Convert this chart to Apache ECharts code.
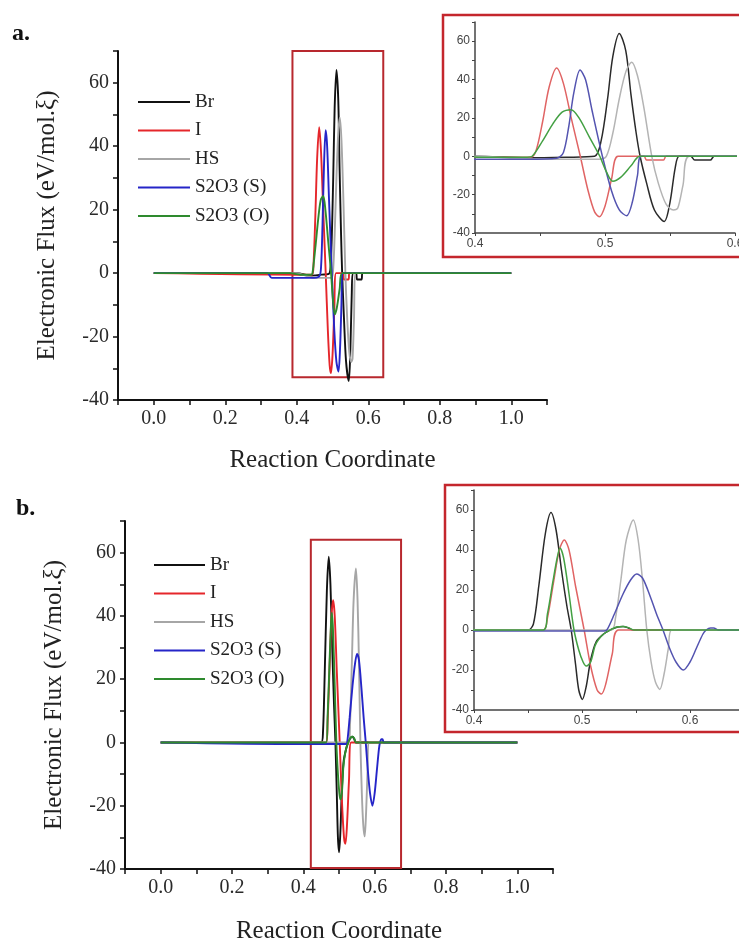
<!DOCTYPE html>
<html>
<head>
<meta charset="utf-8">
<script src="https://cdn.jsdelivr.net/npm/echarts@6/dist/echarts.min.js"></script>
<style>
  html, body { margin: 0; padding: 0; background: #fff; }
  #chart { width: 739px; height: 944px; }
</style>
</head>
<body>
<div id="chart"></div>
<script>
// legend / series names
const seriesNames = ["Br", "I", "HS", "S2O3 (S)", "S2O3 (O)"];

// panel a: [reaction coordinate, flux]
const brA = [[0,0],[0.40,0],[0.44,-0.8],[0.47,-0.5],[0.492,0],[0.497,8],[0.502,30],[0.506,52],[0.511,64],[0.516,55],[0.520,32],[0.524,12],[0.527,0],[0.532,-14],[0.538,-28],[0.5456,-34],[0.550,-24],[0.554,-6],[0.557,0],[0.566,0],[0.569,-2],[0.581,-2],[0.584,0],[1.0,0]];
const iA = [[0,0],[0.40,-0.5],[0.443,-0.5],[0.447,3],[0.452,18],[0.457,36],[0.4628,46],[0.468,38],[0.474,20],[0.481,0],[0.487,-18],[0.492,-29],[0.4956,-31.5],[0.500,-26],[0.505,-12],[0.510,0],[0.530,0],[0.532,-2],[0.545,-2],[0.547,0],[1.0,0]];
const hsA = [[0,0],[0.40,0],[0.445,-1.5],[0.495,-1.5],[0.501,0],[0.506,12],[0.511,30],[0.516,44],[0.5205,49],[0.525,42],[0.530,25],[0.536,0],[0.541,-14],[0.547,-25],[0.5526,-28],[0.556,-27],[0.560,-15],[0.565,0],[1.0,0]];
const s2o3sA = [[0,0],[0.318,0],[0.330,-1.5],[0.44,-1.5],[0.463,-1],[0.468,2],[0.472,15],[0.476,33],[0.4808,45],[0.485,40],[0.490,24],[0.498,0],[0.505,-18],[0.511,-28],[0.5167,-31],[0.521,-24],[0.525,-10],[0.528,0],[1.0,0]];
const s2o3oA = [[0,0],[0.38,0],[0.41,-0.5],[0.44,-0.5],[0.444,0],[0.452,8],[0.460,17],[0.467,23],[0.474,24.3],[0.480,20],[0.488,10],[0.496,0],[0.501,-8],[0.506,-13],[0.512,-11],[0.520,-5],[0.527,0],[1.0,0]];

// panel b
const brB = [[0,0],[0.45,0],[0.455,3],[0.460,22],[0.466,48],[0.4713,58.7],[0.476,50],[0.481,30],[0.486,12],[0.490,0],[0.494,-17],[0.497,-30],[0.5003,-34.7],[0.504,-28],[0.508,-15],[0.513,-6],[0.520,-2],[0.526,0],[0.533,1.5],[0.538,1.8],[0.543,1],[0.547,0],[1.0,0]];
const iB = [[0,0],[0.464,0],[0.468,6],[0.474,25],[0.479,40],[0.4836,45],[0.488,40],[0.494,22],[0.502,0],[0.508,-18],[0.514,-30],[0.518,-32],[0.522,-27],[0.528,-12],[0.534,0],[1.0,0]];
const hsB = [[0,0],[0.527,0],[0.531,6],[0.536,25],[0.541,45],[0.5475,55],[0.552,45],[0.556,25],[0.560,0],[0.564,-16],[0.568,-26],[0.572,-29.7],[0.576,-22],[0.580,-9],[0.583,0],[1.0,0]];
const s2o3sB = [[0,0],[0.40,-0.5],[0.52,-0.5],[0.523,0],[0.530,8],[0.538,18],[0.545,25],[0.5506,28],[0.556,26],[0.563,17],[0.569,8],[0.575,0],[0.581,-9],[0.587,-16],[0.5938,-20],[0.600,-16],[0.606,-9],[0.612,-2],[0.615,0],[0.619,1],[0.622,1],[0.626,0],[1.0,0]];
const s2o3oB = [[0,0],[0.464,0],[0.468,8],[0.473,24],[0.477,36],[0.4796,41],[0.483,36],[0.488,18],[0.4926,0],[0.497,-10],[0.501,-16],[0.504,-18],[0.508,-16],[0.512,-8],[0.515,-5],[0.520,-2],[0.526,0],[0.532,1.5],[0.538,1.8],[0.543,1.2],[0.548,0],[1.0,0]];

// zoom window drawn on the main plots (data coords)
const zoomBoxA = [[0.388, 70], [0.642, -32.8]];
const zoomBoxB = [[0.421, 64.1], [0.674, -39.7]];

const mainColors = ["#111111", "#e5262b", "#a6a6a6", "#2525c8", "#2e8a2e"];
const insetColors = ["#2a2a2a", "#e06464", "#b4b4b4", "#5454b0", "#43a043"];

const serif = "Liberation Serif";
const sans = "Liberation Sans";
const boxRed = "#b8282e";

const panelA = [brA, iA, hsA, s2o3sA, s2o3oA];
const panelB = [brB, iB, hsB, s2o3sB, s2o3oB];

const mainX = (grid, nameGap) => ({
  type: "value",
  gridIndex: grid,
  min: -0.1,
  max: 1.1,
  interval: 0.1,
  axisLine: { show: true, onZero: false, lineStyle: { color: "#111", width: 2 } },
  axisTick: { show: true, inside: false, length: 5, lineStyle: { color: "#111", width: 1.5 } },
  splitLine: { show: false },
  axisLabel: {
    formatter: (v) => {
      const k = Math.round(v * 10);
      return k >= 0 && k <= 10 && k % 2 === 0 ? (k / 10).toFixed(1) : "";
    },
    fontFamily: serif,
    fontSize: 20,
    color: "#2a2a2a",
    margin: 9,
  },
  name: "Reaction Coordinate",
  nameLocation: "middle",
  nameGap: nameGap,
  nameTextStyle: { fontFamily: serif, fontSize: 25, color: "#222" },
});

const mainY = (grid) => ({
  type: "value",
  gridIndex: grid,
  min: -40,
  max: 70,
  interval: 10,
  axisLine: { show: true, onZero: false, lineStyle: { color: "#111", width: 2 } },
  axisTick: { show: true, inside: false, length: 5, lineStyle: { color: "#111", width: 1.5 } },
  splitLine: { show: false },
  axisLabel: {
    formatter: (v) => {
      const k = Math.round(v);
      return k % 20 === 0 && k <= 60 ? String(k) : "";
    },
    fontFamily: serif,
    fontSize: 20,
    color: "#2a2a2a",
    margin: 9,
  },
  name: "Electronic Flux (eV/mol.ξ)",
  nameLocation: "middle",
  nameGap: 58,
  nameTextStyle: { fontFamily: serif, fontSize: 25, color: "#222" },
});

const insetX = (grid, max) => ({
  type: "value",
  gridIndex: grid,
  min: 0.4,
  max: max,
  interval: 0.05,
  axisLine: { show: true, onZero: false, lineStyle: { color: "#444", width: 1.5 } },
  axisTick: { show: true, inside: false, length: 3, lineStyle: { color: "#444" } },
  splitLine: { show: false },
  axisLabel: {
    formatter: (v) => {
      const k = Math.round(v * 100);
      return k % 10 === 0 ? (k / 100).toFixed(1) : "";
    },
    fontFamily: sans,
    fontSize: 12,
    color: "#444",
    margin: 5,
  },
});

const insetY = (grid) => ({
  type: "value",
  gridIndex: grid,
  min: -40,
  max: 70,
  interval: 10,
  axisLine: { show: true, onZero: false, lineStyle: { color: "#444", width: 1.5 } },
  axisTick: { show: true, inside: false, length: 3, lineStyle: { color: "#444" } },
  splitLine: { show: false },
  axisLabel: {
    formatter: (v) => {
      const k = Math.round(v);
      return k % 20 === 0 && k <= 60 ? String(k) : "";
    },
    fontFamily: sans,
    fontSize: 12,
    color: "#444",
    margin: 5,
  },
});

const makeSeries = (panel, axis, colors, width, box) =>
  panel.map((data, i) => {
    const s = {
      name: seriesNames[i],
      type: "line",
      xAxisIndex: axis,
      yAxisIndex: axis,
      data: data,
      symbol: "none",
      smooth: 0.3,
      color: colors[i],
      lineStyle: { color: colors[i], width: width },
      animation: false,
    };
    if (box && i === 0) {
      s.markArea = {
        silent: true,
        label: { show: false },
        itemStyle: { color: "rgba(0,0,0,0)", borderColor: boxRed, borderWidth: 2 },
        data: [[{ coord: box[0] }, { coord: box[1] }]],
      };
    }
    return s;
  });

const legendBase = {
  orient: "vertical",
  itemHeight: 2,
  itemGap: 8.5,
  icon: "rect",
  data: seriesNames,
  textStyle: { fontFamily: serif, fontSize: 19, color: "#222", lineHeight: 20 },
};

const gridBase = { containLabel: false, outerBoundsMode: "none" };

const option = {
  backgroundColor: "#fff",
  animation: false,
  grid: [
    { ...gridBase, left: 118, top: 51, width: 429, height: 349 },
    { ...gridBase, left: 475, top: 22, width: 260, height: 211 },
    { ...gridBase, left: 125, top: 521, width: 428, height: 348 },
    { ...gridBase, left: 474, top: 490, width: 270, height: 220 },
  ],
  xAxis: [mainX(0, 48), insetX(1, 0.6), mainX(2, 50), insetX(3, 0.65)],
  yAxis: [mainY(0), insetY(1), mainY(2), insetY(3)],
  legend: [
    { ...legendBase, left: 133, top: 87, itemWidth: 52 },
    { ...legendBase, left: 149, top: 550, itemWidth: 51 },
  ],
  graphic: [
    { type: "rect", shape: { x: 443, y: 15, width: 330, height: 242 }, style: { fill: "none", stroke: "#c4262d", lineWidth: 2.5 } },
    { type: "rect", shape: { x: 445, y: 485, width: 330, height: 247 }, style: { fill: "none", stroke: "#c4262d", lineWidth: 2.5 } },
    { type: "text", left: 12, top: 22, style: { text: "a.", font: "bold 24px 'Liberation Serif'", fill: "#111" } },
    { type: "text", left: 16, top: 497, style: { text: "b.", font: "bold 24px 'Liberation Serif'", fill: "#111" } },
  ],
  series: [
    ...makeSeries(panelA, 0, mainColors, 1.9, zoomBoxA),
    ...makeSeries(panelA, 1, insetColors, 1.5, null),
    ...makeSeries(panelB, 2, mainColors, 1.9, zoomBoxB),
    ...makeSeries(panelB, 3, insetColors, 1.5, null),
  ],
};

const chart = echarts.init(document.getElementById("chart"));
chart.setOption(option);
</script>
</body>
</html>
